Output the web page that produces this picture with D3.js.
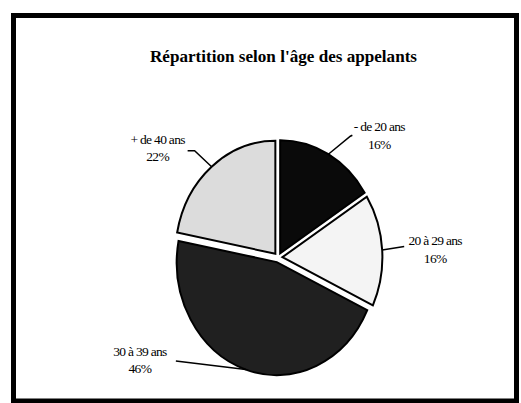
<!DOCTYPE html>
<html>
<head>
<meta charset="utf-8">
<script src="https://cdn.jsdelivr.net/npm/d3@7"></script>
<style>
  body { margin: 0; background: #fff; }
</style>
</head>
<body>
<div id="chart"></div>
<script>
// data
var categories = ["- de 20 ans", "20 à 29 ans", "30 à 39 ans", "+ de 40 ans"];
var values = [16, 16, 46, 22];
var pctLabels = ["16%", "16%", "46%", "22%"];
var sliceColors = ["#0a0a0a", "#f4f4f4", "#202020", "#dcdcdc"];
var title = "Répartition selon l'âge des appelants";

var width = 521, height = 403;
var serif = "'Liberation Serif', 'Times New Roman', Times, serif";

var svg = d3.select("#chart").append("svg")
	.attr("width", width)
	.attr("height", height);

// outer frame
svg.append("rect")
	.attr("x", 13.5).attr("y", 15.5)
	.attr("width", 503).attr("height", 385.5)
	.attr("fill", "none")
	.attr("stroke", "#000")
	.attr("stroke-width", 5);

svg.append("text")
	.attr("x", 283.5).attr("y", 62)
	.attr("text-anchor", "middle")
	.style("font-family", serif)
	.attr("font-size", 17)
	.attr("font-weight", "bold")
	.attr("textLength", 267)
	.attr("lengthAdjust", "spacingAndGlyphs")
	.text(title);

// pie geometry (slightly taller than wide, like the original)
var cx = 278.1, cy = 257.5;
var rx = 100, yScale = 1.13;
var explode = 4.3;

var pie = d3.pie().sort(null).value(function(d) { return d; });
var arcs = pie(values);
var arc = d3.arc().innerRadius(0).outerRadius(rx);

var pieGroup = svg.append("g")
	.attr("transform", "translate(" + cx + "," + cy + ") scale(1," + yScale + ")");

function midAngle(d) { return (d.startAngle + d.endAngle) / 2; }

pieGroup.selectAll(".slice")
	.data(arcs)
	.enter()
	.append("path")
	.attr("class", "slice")
	.attr("transform", function(d) {
		var a = midAngle(d);
		return "translate(" + (explode * Math.sin(a)) + "," + (-explode * Math.cos(a)) + ")";
	})
	.attr("d", arc)
	.attr("fill", function(d, i) { return sliceColors[i]; })
	.attr("stroke", "#000")
	.attr("stroke-width", 2)
	.attr("vector-effect", "non-scaling-stroke");

// label layout: elbow of leader line and text centre, relative to leader start
var labelLayout = [
	{ elbow: [22, -18], end: [24, -19], text: [51, -23] },
	{ elbow: [22, -3.5], end: [22, -3.5], text: [53, -5] },
	{ elbow: [-70, -8.5], end: [-70, -8.5], text: [-106, -14] },
	{ elbow: [-17, -16], end: [-24, -16], text: [-54, -23] }
];

function edgePoint(d) {
	var a = midAngle(d);
	var ox = explode * Math.sin(a), oy = -explode * Math.cos(a);
	return [cx + ox + rx * Math.sin(a), cy + yScale * (oy - rx * Math.cos(a))];
}

var labels = svg.selectAll(".label")
	.data(arcs)
	.enter()
	.append("g")
	.attr("class", "label");

labels.append("polyline")
	.attr("points", function(d, i) {
		var p = edgePoint(d), l = labelLayout[i];
		return [p, [p[0] + l.elbow[0], p[1] + l.elbow[1]], [p[0] + l.end[0], p[1] + l.end[1]]]
			.map(function(q) { return q.join(","); }).join(" ");
	})
	.attr("fill", "none")
	.attr("stroke", "#000")
	.attr("stroke-width", 1.5);

var lineText = labels.append("text")
	.attr("text-anchor", "middle")
	.style("font-family", serif)
	.attr("font-size", 13.5)
	.attr("letter-spacing", -0.7)
	.attr("transform", function(d, i) {
		var p = edgePoint(d), l = labelLayout[i];
		return "translate(" + (p[0] + l.text[0]) + "," + (p[1] + l.text[1]) + ")";
	});

lineText.append("tspan")
	.attr("x", 0).attr("y", 0)
	.text(function(d, i) { return categories[i]; });

lineText.append("tspan")
	.attr("x", 0).attr("y", 17.5)
	.text(function(d, i) { return pctLabels[i]; });
</script>
</body>
</html>
